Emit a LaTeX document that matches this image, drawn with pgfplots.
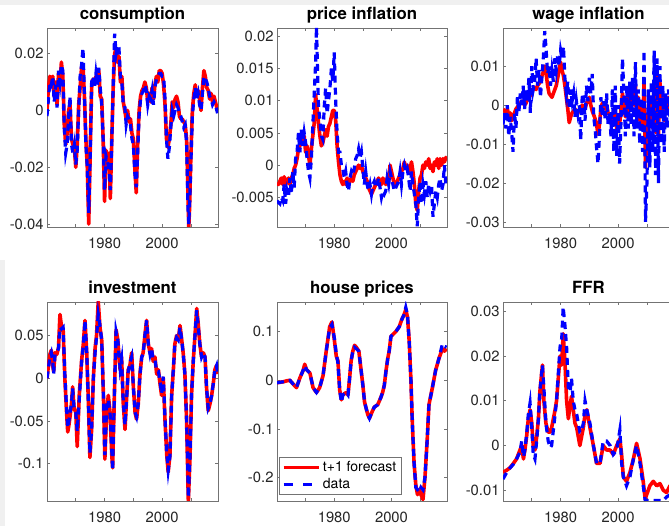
\documentclass[border=0pt]{standalone}
\usepackage{fontspec}
\setmainfont{TeX Gyre Heros}
\usepackage{pgfplots}
\usepackage{pgfplotstable}
\pgfplotsset{compat=1.18}

\newcommand\ticklabfont{\fontsize{14.8bp}{17bp}\selectfont}
\newcommand\titlefont{\fontsize{16.8bp}{19bp}\selectfont\bfseries}
\newcommand\legfont{\fontsize{14bp}{16bp}\selectfont}

\definecolor{axgray}{gray}{0.45}
\definecolor{labgray}{gray}{0.15}
\definecolor{figbg}{gray}{0.94}

% columns: year, t+1 forecast, data
\pgfplotstableread{
1960.0  0.000 -0.002
1960.5  0.008  0.004
1961.0  0.012  0.010
1961.5  0.011  0.009
1962.0  0.012  0.012
1962.5  0.005  0.003
1963.0  0.010  0.009
1963.5  0.002  0.001
1964.0  0.013  0.014
1964.5  0.009  0.010
1965.0  0.017  0.016
1965.5  0.012  0.014
1966.0 -0.005 -0.006
1966.5 -0.012 -0.015
1967.0 -0.008 -0.012
1967.5  0.000 -0.002
1968.0  0.002  0.005
1968.5 -0.010 -0.012
1969.0 -0.012 -0.015
1969.5 -0.013 -0.012
1970.0 -0.020 -0.019
1970.5 -0.012 -0.014
1971.0  0.002  0.000
1971.5  0.008  0.012
1972.0  0.015  0.016
1972.5  0.016  0.022
1973.0  0.005  0.006
1973.5 -0.010 -0.012
1974.0 -0.020 -0.020
1974.5 -0.040 -0.036
1975.0 -0.015 -0.016
1975.5  0.008  0.010
1976.0  0.011  0.012
1976.5  0.010  0.008
1977.0  0.012  0.013
1977.5  0.010  0.009
1978.0  0.014  0.015
1978.5  0.005  0.008
1979.0  0.004  0.002
1979.5 -0.010 -0.010
1980.0 -0.032 -0.028
1980.5 -0.014 -0.016
1981.0 -0.020 -0.018
1981.5 -0.015 -0.020
1982.0 -0.031 -0.028
1982.5 -0.010 -0.012
1983.0  0.008  0.010
1983.5  0.020  0.027
1984.0  0.022  0.020
1984.5  0.017  0.023
1985.0  0.019  0.022
1985.5  0.010  0.012
1986.0  0.012  0.010
1986.5  0.003  0.002
1987.0  0.000  0.002
1987.5 -0.003 -0.005
1988.0  0.000 -0.002
1988.5 -0.004 -0.003
1989.0 -0.003 -0.005
1989.5 -0.008 -0.010
1990.0 -0.010 -0.012
1990.5 -0.020 -0.022
1991.0 -0.029 -0.027
1991.5 -0.012 -0.015
1992.0  0.000 -0.002
1992.5  0.005  0.004
1993.0  0.007  0.006
1993.5  0.008  0.007
1994.0  0.010  0.009
1994.5  0.008  0.007
1995.0  0.003  0.002
1995.5  0.006  0.005
1996.0  0.003  0.004
1996.5  0.008  0.007
1997.0  0.004  0.002
1997.5  0.009  0.008
1998.0  0.012  0.011
1998.5  0.010  0.012
1999.0  0.014  0.013
1999.5  0.014  0.013
2000.0  0.013  0.012
2000.5  0.009  0.012
2001.0  0.002  0.004
2001.5 -0.010 -0.010
2002.0 -0.013 -0.017
2002.5 -0.010 -0.013
2003.0 -0.005 -0.006
2003.5  0.003  0.000
2004.0  0.001 -0.002
2004.5  0.004  0.000
2005.0  0.005  0.002
2005.5  0.003  0.001
2006.0 -0.002 -0.001
2006.5 -0.003 -0.002
2007.0 -0.003 -0.004
2007.5 -0.004 -0.006
2008.0 -0.005 -0.005
2008.5 -0.010 -0.012
2009.0 -0.030 -0.035
2009.25 -0.041 -0.040
2009.5 -0.035 -0.034
2010.0 -0.015 -0.018
2010.5  0.000 -0.002
2011.0  0.006  0.004
2011.5  0.009  0.008
2012.0  0.005  0.004
2012.5  0.007  0.006
2013.0  0.004  0.002
2013.5  0.000  0.000
2014.0  0.008  0.006
2014.5  0.014  0.012
2015.0  0.012  0.011
2015.5  0.008  0.010
2016.0  0.007  0.008
2016.5  0.004  0.005
2017.0  0.006  0.004
2017.5  0.003  0.002
2018.0  0.005  0.003
2018.5  0.003  0.002
2019.0  0.001  0.000
2019.25 0.000 -0.001
}\consumption

\pgfplotstableread{
1960.0 -0.0028 -0.0055
1960.5 -0.0030 -0.0058
1961.0 -0.0025 -0.0060
1961.5 -0.0020 -0.0050
1962.0 -0.0030 -0.0055
1962.5 -0.0018 -0.0030
1963.0 -0.0030 -0.0060
1963.5 -0.0025 -0.0040
1964.0 -0.0020 -0.0050
1964.5 -0.0030 -0.0020
1965.0 -0.0020 -0.0045
1965.5 -0.0015 -0.0010
1966.0 -0.0005 -0.0035
1966.5  0.0000  0.0010
1967.0  0.0010  0.0020
1967.5  0.0025  0.0050
1968.0  0.0030  0.0020
1968.5  0.0040  0.0055
1969.0  0.0035  0.0030
1969.5  0.0045  0.0050
1970.0  0.0020  0.0035
1970.5  0.0030  0.0010
1971.0  0.0015 -0.0010
1971.5  0.0000 -0.0020
1972.0  0.0025  0.0010
1972.5  0.0045  0.0060
1973.0  0.0065  0.0110
1973.5  0.0110  0.0160
1973.8  0.0095  0.0215
1974.2  0.0080  0.0140
1974.5  0.0065  0.0090
1975.0  0.0045  0.0070
1975.5  0.0030  0.0045
1976.0  0.0035  0.0040
1976.5  0.0045  0.0090
1977.0  0.0055  0.0120
1977.5  0.0045  0.0080
1978.0  0.0060  0.0100
1978.5  0.0065  0.0120
1979.0  0.0075  0.0150
1979.5  0.0085  0.0130
1980.0  0.0085  0.0175
1980.5  0.0070  0.0100
1981.0  0.0030  0.0050
1981.5  0.0005  0.0020
1982.0 -0.0015  0.0020
1982.5 -0.0025  0.0000
1983.0 -0.0030 -0.0005
1983.5 -0.0025 -0.0020
1984.0 -0.0030 -0.0010
1984.5 -0.0020 -0.0030
1985.0 -0.0030 -0.0040
1985.5 -0.0025 -0.0020
1986.0 -0.0020 -0.0010
1986.5 -0.0025 -0.0015
1987.0 -0.0015 -0.0005
1987.5 -0.0010  0.0010
1988.0 -0.0005  0.0015
1988.5  0.0000  0.0025
1989.0 -0.0005  0.0010
1989.5  0.0000  0.0020
1990.0 -0.0010 -0.0005
1990.5 -0.0015 -0.0030
1991.0 -0.0020 -0.0010
1991.5 -0.0025 -0.0030
1992.0 -0.0035 -0.0040
1992.5 -0.0040 -0.0030
1993.0 -0.0045 -0.0045
1993.5 -0.0040 -0.0030
1994.0 -0.0035 -0.0025
1994.5 -0.0030 -0.0035
1995.0 -0.0025 -0.0030
1995.5 -0.0020 -0.0020
1996.0 -0.0025 -0.0035
1996.5 -0.0030 -0.0050
1997.0 -0.0020 -0.0040
1997.5 -0.0025 -0.0045
1998.0 -0.0030 -0.0040
1998.5 -0.0020 -0.0020
1999.0 -0.0025 -0.0030
1999.5  0.0000 -0.0010
2000.0 -0.0010 -0.0020
2000.5 -0.0020 -0.0030
2001.0 -0.0030 -0.0040
2001.5 -0.0030 -0.0035
2002.0 -0.0025 -0.0030
2002.5 -0.0020 -0.0025
2003.0 -0.0015 -0.0010
2003.5 -0.0010 -0.0030
2004.0 -0.0005 -0.0010
2004.5  0.0005  0.0000
2005.0 -0.0005 -0.0010
2005.5  0.0000 -0.0005
2006.0 -0.0010 -0.0020
2006.5 -0.0005 -0.0040
2007.0  0.0005 -0.0010
2007.5 -0.0010 -0.0030
2008.0 -0.0030 -0.0045
2008.5 -0.0060 -0.0060
2009.0 -0.0070 -0.0095
2009.5 -0.0040 -0.0050
2010.0 -0.0020 -0.0025
2010.5 -0.0015 -0.0060
2011.0  0.0000 -0.0030
2011.5 -0.0005 -0.0045
2012.0  0.0005 -0.0025
2012.5  0.0000 -0.0050
2013.0  0.0010 -0.0030
2013.5 -0.0005 -0.0040
2014.0  0.0000 -0.0030
2014.5 -0.0010 -0.0080
2015.0  0.0005 -0.0060
2015.5  0.0000 -0.0040
2016.0  0.0010 -0.0050
2016.5 -0.0005 -0.0030
2017.0  0.0010 -0.0020
2017.5  0.0000 -0.0040
2018.0  0.0010 -0.0030
2018.5  0.0005  0.0000
2019.0  0.0012 -0.0030
2019.25 0.0008 -0.0035
}\priceinfl

\pgfplotstableread{
1960.0 -0.0010 -0.0050
1960.5 -0.0015 -0.0020
1961.0 -0.0020 -0.0060
1961.5 -0.0010  0.0000
1962.0 -0.0025 -0.0080
1962.5 -0.0020 -0.0030
1963.0 -0.0040 -0.0070
1963.5 -0.0030 -0.0120
1964.0 -0.0020 -0.0020
1964.5 -0.0010 -0.0060
1965.0 -0.0005  0.0020
1965.5  0.0000 -0.0020
1966.0  0.0005  0.0030
1966.5  0.0010  0.0000
1967.0  0.0005  0.0050
1967.5  0.0000 -0.0010
1968.0  0.0005  0.0040
1968.5  0.0015  0.0010
1969.0  0.0020  0.0070
1969.5  0.0025 -0.0020
1970.0  0.0035  0.0100
1970.5  0.0040  0.0040
1971.0  0.0045  0.0060
1971.5  0.0040  0.0120
1972.0  0.0050  0.0050
1972.5  0.0055  0.0090
1973.0  0.0060  0.0020
1973.5  0.0075  0.0070
1974.0  0.0085  0.0120
1974.5  0.0100  0.0190
1975.0  0.0080  0.0140
1975.5  0.0050  0.0080
1976.0  0.0030  0.0100
1976.5  0.0025  0.0050
1977.0  0.0020  0.0090
1977.5  0.0030  0.0060
1978.0  0.0040  0.0120
1978.5  0.0050  0.0090
1979.0  0.0070  0.0130
1979.5  0.0090  0.0100
1980.0  0.0110  0.0140
1980.5  0.0090  0.0120
1981.0  0.0075  0.0150
1981.5  0.0050  0.0070
1982.0  0.0020  0.0030
1982.5 -0.0010  0.0060
1983.0 -0.0045 -0.0010
1983.5 -0.0030  0.0040
1984.0 -0.0020  0.0010
1984.5 -0.0015  0.0030
1985.0 -0.0010 -0.0030
1985.5 -0.0015  0.0010
1986.0 -0.0020 -0.0020
1986.5 -0.0015  0.0000
1987.0 -0.0010 -0.0090
1987.5  0.0000  0.0020
1988.0 -0.0005  0.0030
1988.5 -0.0010 -0.0040
1989.0  0.0005  0.0050
1989.5  0.0010  0.0010
1990.0  0.0020  0.0070
1990.5  0.0000  0.0030
1991.0 -0.0015  0.0080
1991.5 -0.0025 -0.0030
1992.0 -0.0035 -0.0060
1992.5 -0.0050 -0.0110
1993.0 -0.0075 -0.0150
1993.5 -0.0050 -0.0080
1994.0 -0.0010  0.0020
1994.5  0.0005 -0.0030
1995.0  0.0000  0.0010
1995.5 -0.0010 -0.0040
1996.0  0.0000  0.0030
1996.5 -0.0020 -0.0050
1997.0 -0.0025 -0.0020
1997.5 -0.0040 -0.0080
1998.0 -0.0020  0.0040
1998.5 -0.0050 -0.0120
1999.0 -0.0020  0.0050
1999.5 -0.0060 -0.0130
2000.0 -0.0030  0.0000
2000.5 -0.0050 -0.0150
2001.0 -0.0010 -0.0040
2001.5  0.0030  0.0120
2002.0  0.0000  0.0030
2002.5 -0.0030 -0.0080
2003.0  0.0020  0.0050
2003.5 -0.0020 -0.0060
2004.0  0.0035  0.0060
2004.5  0.0010 -0.0050
2005.0  0.0040  0.0070
2005.5  0.0000 -0.0080
2006.0  0.0050  0.0110
2006.5 -0.0020 -0.0060
2007.0  0.0020  0.0040
2007.5 -0.0040 -0.0100
2008.0  0.0000  0.0020
2008.5 -0.0060 -0.0120
2009.0  0.0060  0.0140
2009.5 -0.0160 -0.0300
2010.0 -0.0060 -0.0200
2010.5 -0.0020  0.0040
2011.0 -0.0050 -0.0160
2011.5  0.0010  0.0060
2012.0 -0.0060 -0.0120
2012.5  0.0060  0.0140
2013.0 -0.0070 -0.0180
2013.5  0.0080  0.0120
2014.0 -0.0080 -0.0200
2014.5  0.0060  0.0100
2015.0 -0.0030 -0.0100
2015.5  0.0020  0.0050
2016.0 -0.0040 -0.0120
2016.5  0.0010  0.0030
2017.0 -0.0020 -0.0060
2017.5  0.0020  0.0040
2018.0 -0.0010 -0.0030
2018.5  0.0010  0.0020
2019.0  0.0000 -0.0020
}\wageinfl

\pgfplotstableread{
1960.0  0.000  0.000
1960.5  0.015  0.012
1961.0  0.028  0.025
1961.5  0.033  0.030
1962.0  0.015  0.020
1962.3  0.008  0.005
1962.8  0.030  0.028
1963.4  0.028  0.030
1964.0  0.036  0.035
1964.5  0.075  0.060
1965.0  0.062  0.058
1965.6  0.058  0.060
1966.2  0.000  0.005
1966.8 -0.040 -0.035
1967.2 -0.063 -0.058
1967.6 -0.055 -0.050
1968.0 -0.045 -0.040
1968.5 -0.030 -0.030
1968.9 -0.010 -0.012
1969.4 -0.035 -0.035
1970.0 -0.040 -0.040
1970.5 -0.080 -0.062
1971.2 -0.020 -0.025
1972.0  0.020  0.018
1972.6  0.040  0.038
1973.2  0.068  0.068
1973.8  0.030  0.030
1974.4 -0.030 -0.030
1974.9 -0.093 -0.088
1975.5 -0.060 -0.060
1976.1  0.000  0.000
1976.7  0.035  0.030
1977.2  0.050  0.048
1977.8  0.090  0.075
1978.4  0.060  0.062
1979.0  0.045  0.045
1979.6 -0.020 -0.020
1980.1 -0.095 -0.090
1980.7 -0.040 -0.035
1981.3 -0.020 -0.025
1981.9 -0.040 -0.040
1982.5 -0.090 -0.085
1982.8 -0.105 -0.108
1983.4 -0.020 -0.020
1984.0  0.057  0.055
1984.6  0.045  0.045
1985.4  0.010  0.012
1985.9  0.025  0.022
1986.5 -0.030 -0.028
1987.1 -0.060 -0.055
1987.7 -0.020 -0.022
1988.2  0.010  0.008
1988.8  0.015  0.018
1989.4  0.030  0.025
1990.0 -0.010 -0.010
1990.6 -0.040 -0.040
1991.1 -0.048 -0.045
1991.7 -0.030 -0.030
1992.3  0.005  0.005
1992.9  0.025  0.025
1993.4  0.030  0.028
1994.0  0.050  0.050
1994.6  0.068  0.068
1995.2  0.040  0.040
1995.8  0.030  0.028
1996.3  0.035  0.035
1996.9  0.020  0.022
1997.5  0.025  0.022
1998.1  0.005  0.008
1998.7  0.010  0.008
1999.2 -0.005 -0.002
1999.8 -0.020 -0.018
2000.4  0.000  0.002
2001.0 -0.050 -0.048
2001.6 -0.090 -0.088
2002.1 -0.110 -0.108
2002.7 -0.090 -0.092
2003.3 -0.020 -0.020
2003.9  0.010  0.012
2004.4  0.040  0.040
2005.0  0.050  0.048
2005.6  0.045  0.045
2006.2  0.062  0.060
2006.8  0.045  0.045
2007.3  0.030  0.030
2007.9  0.005  0.005
2008.5 -0.050 -0.050
2009.1 -0.145 -0.140
2009.7 -0.090 -0.090
2010.2 -0.020 -0.020
2010.8  0.020  0.020
2011.4  0.050  0.050
2012.0  0.082  0.080
2012.5  0.065  0.062
2013.1  0.040  0.040
2013.7  0.025  0.025
2014.3  0.030  0.030
2014.9  0.025  0.025
2015.4 -0.010 -0.010
2016.0 -0.038 -0.035
2016.6 -0.030 -0.030
2017.2 -0.020 -0.020
2017.8 -0.005 -0.005
2018.3  0.010  0.010
2018.9  0.015  0.015
2019.25 0.005  0.005
}\investment

\pgfplotstableread{
1960.0 -0.005 -0.005
1961.0 -0.004 -0.004
1962.2 -0.003 -0.003
1963.4 -0.001 -0.001
1964.5  0.000  0.000
1965.7 -0.008 -0.008
1966.8 -0.015 -0.015
1968.0  0.005  0.005
1969.1  0.020  0.020
1969.7  0.033  0.030
1970.3  0.022  0.022
1971.5  0.015  0.015
1972.6 -0.015 -0.015
1973.8 -0.025 -0.025
1974.9 -0.015 -0.015
1976.1  0.010  0.010
1977.2  0.060  0.060
1978.4  0.110  0.108
1979.2  0.120  0.115
1980.1  0.080  0.085
1980.7  0.050  0.055
1981.3  0.040  0.035
1981.9 -0.020 -0.020
1982.5 -0.040 -0.045
1983.0 -0.030 -0.030
1984.2 -0.025 -0.025
1984.8 -0.030 -0.030
1985.3  0.000  0.000
1985.9  0.040  0.040
1986.5  0.060  0.060
1987.1  0.072  0.068
1987.7  0.068  0.065
1988.6  0.060  0.060
1989.4  0.020  0.020
1990.0 -0.010 -0.010
1990.6 -0.045 -0.045
1991.7 -0.070 -0.070
1992.3 -0.078 -0.078
1993.2 -0.065 -0.065
1994.0 -0.055 -0.055
1995.2 -0.050 -0.050
1996.3 -0.035 -0.035
1996.9 -0.025 -0.025
1997.5 -0.010 -0.010
1998.1  0.020  0.020
1998.7  0.045  0.045
1999.2  0.060  0.060
1999.8  0.090  0.090
2000.6  0.095  0.095
2001.5  0.100  0.100
2002.7  0.110  0.110
2003.6  0.125  0.125
2004.4  0.135  0.135
2005.0  0.145  0.150
2005.6  0.130  0.135
2006.2  0.080  0.080
2006.8  0.000  0.000
2007.3 -0.090 -0.090
2007.9 -0.170 -0.170
2008.5 -0.215 -0.220
2009.1 -0.235 -0.225
2009.7 -0.225 -0.230
2010.3 -0.235 -0.220
2011.0 -0.245 -0.225
2011.7 -0.200 -0.200
2012.5 -0.120 -0.120
2013.1 -0.050 -0.050
2014.3 -0.015 -0.015
2015.4  0.020  0.020
2016.6  0.045  0.045
2017.8  0.065  0.075
2018.5  0.060  0.070
2019.25 0.065  0.068
}\houseprices

\pgfplotstableread{
1960.0 -0.0060 -0.0075
1961.3 -0.0055 -0.0060
1962.4 -0.0050 -0.0050
1963.6 -0.0040 -0.0042
1964.7 -0.0030 -0.0030
1965.9 -0.0010 -0.0015
1966.5  0.0000  0.0010
1967.1 -0.0030 -0.0025
1967.6 -0.0010 -0.0010
1968.2  0.0020  0.0025
1968.8  0.0060  0.0070
1969.4  0.0080  0.0095
1970.0  0.0050  0.0040
1970.5  0.0000 -0.0020
1971.1 -0.0010 -0.0030
1971.7  0.0020  0.0010
1972.3  0.0060  0.0060
1972.8  0.0120  0.0120
1973.7  0.0180  0.0180
1974.2  0.0100  0.0130
1974.9  0.0050  0.0050
1975.7  0.0030  0.0010
1976.4  0.0030 -0.0005
1976.9  0.0040  0.0000
1978.1  0.0080  0.0070
1978.6  0.0100  0.0100
1979.2  0.0150  0.0160
1979.8  0.0200  0.0220
1980.4  0.0180  0.0240
1980.9  0.0250  0.0310
1981.5  0.0190  0.0270
1982.1  0.0100  0.0220
1982.7  0.0060  0.0130
1983.3  0.0090  0.0120
1983.8  0.0110  0.0150
1984.4  0.0080  0.0100
1985.0  0.0050  0.0080
1985.6  0.0040  0.0070
1986.7  0.0000  0.0030
1987.3  0.0020  0.0030
1987.9  0.0040  0.0050
1988.5  0.0070  0.0100
1989.1  0.0080  0.0080
1990.2  0.0040  0.0050
1991.4  0.0000  0.0000
1992.5 -0.0040 -0.0040
1993.7 -0.0040 -0.0040
1994.8  0.0000  0.0010
1996.0 -0.0010  0.0010
1997.2 -0.0010  0.0000
1998.3 -0.0020 -0.0020
1999.5  0.0000 -0.0010
2000.6  0.0015  0.0035
2001.2 -0.0020 -0.0040
2001.8 -0.0070 -0.0070
2002.9 -0.0080 -0.0090
2004.1 -0.0060 -0.0070
2005.3 -0.0030 -0.0030
2006.4  0.0005  0.0000
2007.6 -0.0030 -0.0040
2008.7 -0.0080 -0.0090
2009.4 -0.0120 -0.0123
2009.9 -0.0110 -0.0123
2011.0 -0.0090 -0.0123
2012.2 -0.0080 -0.0123
2013.4 -0.0090 -0.0123
2014.5 -0.0085 -0.0123
2015.7 -0.0100 -0.0123
2016.8 -0.0105 -0.0115
2018.0 -0.0090 -0.0110
2019.25 -0.0085 -0.0090
}\ffr

\pgfplotsset{
  panel/.style={
    scale only axis, width=171bp, height=199bp, anchor=south west,
    xmin=1960, xmax=2019.4,
    scaled x ticks=false, scaled y ticks=false,
    axis line style={axgray, line width=0.7bp},
    every tick/.style={axgray, line width=0.7bp},
    tick align=inside, major tick length=3bp,
    xtick={1970,1980,1990,2000,2010}, xticklabels={,1980,,2000,},
    tick label style={font=\ticklabfont, text=labgray},
    xticklabel style={yshift=-7bp},
    title style={font=\titlefont, at={(0.5,1)}, anchor=base, yshift=2.5bp},
  },
  fcst/.style={red, line width=3.6bp, line join=round},
  obs/.style={blue, line width=3.2bp, dash pattern=on 7bp off 5bp},
}

\begin{document}
\begin{tikzpicture}
\useasboundingbox (0,0) rectangle (669bp,526bp);
\clip (0,0) rectangle (669bp,526bp);
\fill[white] (0,0) rectangle (669bp,526bp);
\fill[figbg] (0,521bp) rectangle (669bp,526bp);
\fill[figbg] (0,0) rectangle (5bp,266bp);

% top row
\begin{axis}[panel, at={(47bp,299bp)}, title={consumption},
  ymin=-0.041, ymax=0.029,
  ytick={-0.04,-0.02,0,0.02}, yticklabels={-0.04,-0.02,0,0.02}]
\addplot[fcst] table[x index=0, y index=1] {\consumption};
\addplot[obs] table[x index=0, y index=2] {\consumption};
\end{axis}

\begin{axis}[panel, width=170bp, at={(277bp,299bp)}, title={price inflation},
  ymin=-0.0096, ymax=0.0213,
  ytick={-0.005,0,0.005,0.01,0.015,0.02},
  yticklabels={-0.005,0,0.005,0.01,0.015,0.02}]
\addplot[fcst] table[x index=0, y index=1] {\priceinfl};
\addplot[obs] table[x index=0, y index=2] {\priceinfl};
\end{axis}

\begin{axis}[panel, at={(503bp,299bp)}, title={wage inflation},
  ymin=-0.0313, ymax=0.0198,
  ytick={-0.03,-0.02,-0.01,0,0.01}, yticklabels={-0.03,-0.02,-0.01,0,0.01}]
\addplot[fcst] table[x index=0, y index=1] {\wageinfl};
\addplot[obs] table[x index=0, y index=2] {\wageinfl};
\end{axis}

% bottom row
\begin{axis}[panel, at={(47bp,25bp)}, title={investment},
  ymin=-0.144, ymax=0.0896,
  ytick={-0.1,-0.05,0,0.05}, yticklabels={-0.1,-0.05,0,0.05}]
\addplot[fcst] table[x index=0, y index=1] {\investment};
\addplot[obs] table[x index=0, y index=2] {\investment};
\end{axis}

\begin{axis}[panel, width=170bp, at={(277bp,25bp)}, title={house prices},
  ymin=-0.248, ymax=0.161,
  ytick={-0.2,-0.1,0,0.1}, yticklabels={-0.2,-0.1,0,0.1},
  legend style={at={(0,0)}, anchor=south west, xshift=1.5bp, yshift=6bp,
    draw=axgray, line width=0.7bp, fill=white, font=\legfont,
    inner xsep=3bp, inner ysep=2bp, row sep=0bp,
    nodes={inner sep=2.5bp, text=black}},
  legend cell align=left]
\addplot[fcst, legend image code/.code={%
  \draw[red, line width=3.6bp] (0bp,0bp) -- (35bp,0bp);}]
  table[x index=0, y index=1] {\houseprices};
\addlegendentry{t+1 forecast}
\addplot[obs, legend image code/.code={%
  \draw[blue, line width=3.2bp, dash pattern=on 9bp off 10.5bp] (0bp,0bp) -- (35bp,0bp);}]
  table[x index=0, y index=2] {\houseprices};
\addlegendentry{data}
\end{axis}

\begin{axis}[panel, at={(503bp,25bp)}, title={FFR},
  ymin=-0.0124, ymax=0.0321,
  ytick={-0.01,0,0.01,0.02,0.03}, yticklabels={-0.01,0,0.01,0.02,0.03}]
\addplot[fcst] table[x index=0, y index=1] {\ffr};
\addplot[obs] table[x index=0, y index=2] {\ffr};
\end{axis}
\end{tikzpicture}
\end{document}
